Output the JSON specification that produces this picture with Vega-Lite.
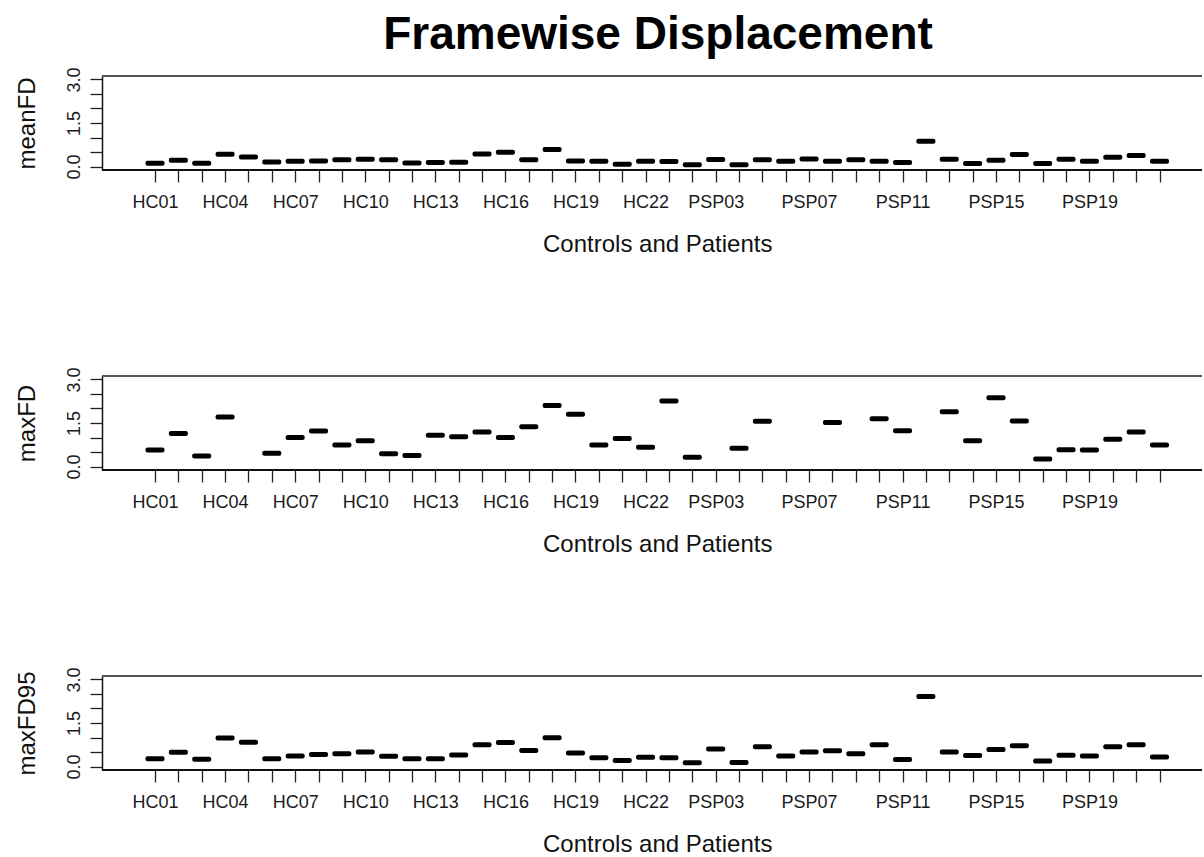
{
  "$schema": "https://vega.github.io/schema/vega-lite/v6.json",
  "background": "white",
  "padding": {"left": 15, "top": 11, "right": 0, "bottom": 0},
  "spacing": 110,
  "config": {
    "font": "Liberation Sans",
    "view": {"stroke": null},
    "axis": {
      "grid": false,
      "domainColor": "#111111",
      "domainWidth": 1.5,
      "tickColor": "#222222",
      "tickWidth": 1.3,
      "tickSize": 12,
      "labelColor": "#1a1a1a",
      "labelFontSize": 18,
      "titleColor": "#111111",
      "titleFontSize": 24,
      "titleFontWeight": "normal"
    },
    "title": {"color": "#000000"}
  },
  "data": {
    "values": [
      {"subject": "HC01", "meanFD": 0.11, "maxFD": 0.57, "maxFD95": 0.27},
      {"subject": "HC02", "meanFD": 0.22, "maxFD": 1.14, "maxFD95": 0.49},
      {"subject": "HC03", "meanFD": 0.11, "maxFD": 0.36, "maxFD95": 0.25},
      {"subject": "HC04", "meanFD": 0.42, "maxFD": 1.71, "maxFD95": 0.98},
      {"subject": "HC05", "meanFD": 0.33, "maxFD": null, "maxFD95": 0.84},
      {"subject": "HC06", "meanFD": 0.16, "maxFD": 0.46, "maxFD95": 0.27},
      {"subject": "HC07", "meanFD": 0.18, "maxFD": 1.0, "maxFD95": 0.36},
      {"subject": "HC08", "meanFD": 0.19, "maxFD": 1.22, "maxFD95": 0.41},
      {"subject": "HC09", "meanFD": 0.23, "maxFD": 0.74, "maxFD95": 0.44},
      {"subject": "HC10", "meanFD": 0.25, "maxFD": 0.89, "maxFD95": 0.5},
      {"subject": "HC11", "meanFD": 0.23, "maxFD": 0.44, "maxFD95": 0.35},
      {"subject": "HC12", "meanFD": 0.12, "maxFD": 0.38, "maxFD95": 0.27},
      {"subject": "HC13", "meanFD": 0.14, "maxFD": 1.08, "maxFD95": 0.27},
      {"subject": "HC14", "meanFD": 0.15, "maxFD": 1.03, "maxFD95": 0.4},
      {"subject": "HC15", "meanFD": 0.43, "maxFD": 1.19, "maxFD95": 0.75},
      {"subject": "HC16", "meanFD": 0.49, "maxFD": 1.0, "maxFD95": 0.83},
      {"subject": "HC17", "meanFD": 0.23, "maxFD": 1.37, "maxFD95": 0.55},
      {"subject": "HC18", "meanFD": 0.59, "maxFD": 2.1, "maxFD95": 0.99},
      {"subject": "HC19", "meanFD": 0.19, "maxFD": 1.8, "maxFD95": 0.47},
      {"subject": "HC20", "meanFD": 0.18, "maxFD": 0.74, "maxFD95": 0.3},
      {"subject": "HC21", "meanFD": 0.08, "maxFD": 0.97, "maxFD95": 0.21},
      {"subject": "HC22", "meanFD": 0.18, "maxFD": 0.66, "maxFD95": 0.32},
      {"subject": "PSP01", "meanFD": 0.17, "maxFD": 2.26, "maxFD95": 0.3},
      {"subject": "PSP02", "meanFD": 0.06, "maxFD": 0.32, "maxFD95": 0.13},
      {"subject": "PSP03", "meanFD": 0.24, "maxFD": null, "maxFD95": 0.6},
      {"subject": "PSP04", "meanFD": 0.06, "maxFD": 0.63, "maxFD95": 0.14},
      {"subject": "PSP05", "meanFD": 0.23, "maxFD": 1.56, "maxFD95": 0.68},
      {"subject": "PSP06", "meanFD": 0.18, "maxFD": null, "maxFD95": 0.36},
      {"subject": "PSP07", "meanFD": 0.26, "maxFD": null, "maxFD95": 0.5},
      {"subject": "PSP08", "meanFD": 0.18, "maxFD": 1.52, "maxFD95": 0.54},
      {"subject": "PSP09", "meanFD": 0.23, "maxFD": null, "maxFD95": 0.44},
      {"subject": "PSP10", "meanFD": 0.18, "maxFD": 1.65, "maxFD95": 0.75},
      {"subject": "PSP11", "meanFD": 0.14, "maxFD": 1.23, "maxFD95": 0.24},
      {"subject": "PSP12", "meanFD": 0.87, "maxFD": null, "maxFD95": 2.41},
      {"subject": "PSP13", "meanFD": 0.25, "maxFD": 1.89, "maxFD95": 0.5},
      {"subject": "PSP14", "meanFD": 0.1, "maxFD": 0.89, "maxFD95": 0.38},
      {"subject": "PSP15", "meanFD": 0.22, "maxFD": 2.37, "maxFD95": 0.59},
      {"subject": "PSP16", "meanFD": 0.41, "maxFD": 1.57, "maxFD95": 0.72},
      {"subject": "PSP17", "meanFD": 0.1, "maxFD": 0.26, "maxFD95": 0.19},
      {"subject": "PSP18", "meanFD": 0.25, "maxFD": 0.58, "maxFD95": 0.39},
      {"subject": "PSP19", "meanFD": 0.18, "maxFD": 0.57, "maxFD95": 0.36},
      {"subject": "PSP20", "meanFD": 0.32, "maxFD": 0.94, "maxFD95": 0.68},
      {"subject": "PSP21", "meanFD": 0.38, "maxFD": 1.19, "maxFD95": 0.75},
      {"subject": "PSP22", "meanFD": 0.18, "maxFD": 0.74, "maxFD95": 0.33}
    ]
  },
  "vconcat": [
    {
      "width": 1100,
      "height": 94,
      "title": {"text": "Framewise Displacement", "fontSize": 46, "fontWeight": "bold", "anchor": "middle", "frame": "group", "dx": 6, "offset": 8},
      "layer": [
        {
          "mark": {"type": "tick", "color": "black", "opacity": 1, "thickness": 5, "size": 19, "cornerRadius": 2},
          "encoding": {
            "x": {"field": "subject", "type": "ordinal", "sort": null,
              "scale": {"type": "point", "padding": 0, "range": [53, 1057.5],
                "domain": ["HC01","HC02","HC03","HC04","HC05","HC06","HC07","HC08","HC09","HC10","HC11","HC12","HC13","HC14","HC15","HC16","HC17","HC18","HC19","HC20","HC21","HC22","PSP01","PSP02","PSP03","PSP04","PSP05","PSP06","PSP07","PSP08","PSP09","PSP10","PSP11","PSP12","PSP13","PSP14","PSP15","PSP16","PSP17","PSP18","PSP19","PSP20","PSP21","PSP22"]},
              "axis": {"title": "Controls and Patients", "domain": false, "labelAngle": 0, "labelPadding": 11, "titlePadding": 21, "labelOverlap": false,
                "labelExpr": "(datum.value == 'HC01' || datum.value == 'HC04' || datum.value == 'HC07' || datum.value == 'HC10' || datum.value == 'HC13' || datum.value == 'HC16' || datum.value == 'HC19' || datum.value == 'HC22' || datum.value == 'PSP03' || datum.value == 'PSP07' || datum.value == 'PSP11' || datum.value == 'PSP15' || datum.value == 'PSP19') ? datum.value : ''"}},
            "y": {"field": "meanFD", "type": "quantitative",
              "scale": {"domain": [-0.12, 3.12], "nice": false, "zero": false},
              "axis": {"title": "meanFD", "values": [0, 0.5, 1, 1.5, 2, 2.5, 3], "labelAngle": -90, "labelAlign": "center", "labelBaseline": "alphabetic", "labelFontSize": 18, "labelPadding": 11, "titlePadding": 26,
                "labelExpr": "(datum.value == 0 || datum.value == 1.5 || datum.value == 3) ? format(datum.value, '.1f') : ''"}}
          }
        },
        {
          "mark": {"type": "rule", "color": "#555555", "strokeWidth": 2},
          "encoding": {"y": {"datum": 3.12, "type": "quantitative",
              "axis": {"title": "meanFD", "values": [0, 0.5, 1, 1.5, 2, 2.5, 3], "labelAngle": -90, "labelAlign": "center", "labelBaseline": "alphabetic", "labelFontSize": 18, "labelPadding": 11, "titlePadding": 26,
                "labelExpr": "(datum.value == 0 || datum.value == 1.5 || datum.value == 3) ? format(datum.value, '.1f') : ''"}}}
        },
        {
          "mark": {"type": "rule", "color": "#111111", "strokeWidth": 1.5},
          "encoding": {"y": {"datum": -0.12, "type": "quantitative",
              "axis": {"title": "meanFD", "values": [0, 0.5, 1, 1.5, 2, 2.5, 3], "labelAngle": -90, "labelAlign": "center", "labelBaseline": "alphabetic", "labelFontSize": 18, "labelPadding": 11, "titlePadding": 26,
                "labelExpr": "(datum.value == 0 || datum.value == 1.5 || datum.value == 3) ? format(datum.value, '.1f') : ''"}}}
        }
      ]
    },
    {
      "width": 1100,
      "height": 94,
      "layer": [
        {
          "mark": {"type": "tick", "color": "black", "opacity": 1, "thickness": 5, "size": 19, "cornerRadius": 2},
          "encoding": {
            "x": {"field": "subject", "type": "ordinal", "sort": null,
              "scale": {"type": "point", "padding": 0, "range": [53, 1057.5],
                "domain": ["HC01","HC02","HC03","HC04","HC05","HC06","HC07","HC08","HC09","HC10","HC11","HC12","HC13","HC14","HC15","HC16","HC17","HC18","HC19","HC20","HC21","HC22","PSP01","PSP02","PSP03","PSP04","PSP05","PSP06","PSP07","PSP08","PSP09","PSP10","PSP11","PSP12","PSP13","PSP14","PSP15","PSP16","PSP17","PSP18","PSP19","PSP20","PSP21","PSP22"]},
              "axis": {"title": "Controls and Patients", "domain": false, "labelAngle": 0, "labelPadding": 11, "titlePadding": 21, "labelOverlap": false,
                "labelExpr": "(datum.value == 'HC01' || datum.value == 'HC04' || datum.value == 'HC07' || datum.value == 'HC10' || datum.value == 'HC13' || datum.value == 'HC16' || datum.value == 'HC19' || datum.value == 'HC22' || datum.value == 'PSP03' || datum.value == 'PSP07' || datum.value == 'PSP11' || datum.value == 'PSP15' || datum.value == 'PSP19') ? datum.value : ''"}},
            "y": {"field": "maxFD", "type": "quantitative",
              "scale": {"domain": [-0.12, 3.12], "nice": false, "zero": false},
              "axis": {"title": "maxFD", "values": [0, 0.5, 1, 1.5, 2, 2.5, 3], "labelAngle": -90, "labelAlign": "center", "labelBaseline": "alphabetic", "labelFontSize": 18, "labelPadding": 11, "titlePadding": 26,
                "labelExpr": "(datum.value == 0 || datum.value == 1.5 || datum.value == 3) ? format(datum.value, '.1f') : ''"}}
          }
        },
        {
          "mark": {"type": "rule", "color": "#555555", "strokeWidth": 2},
          "encoding": {"y": {"datum": 3.12, "type": "quantitative",
              "axis": {"title": "maxFD", "values": [0, 0.5, 1, 1.5, 2, 2.5, 3], "labelAngle": -90, "labelAlign": "center", "labelBaseline": "alphabetic", "labelFontSize": 18, "labelPadding": 11, "titlePadding": 26,
                "labelExpr": "(datum.value == 0 || datum.value == 1.5 || datum.value == 3) ? format(datum.value, '.1f') : ''"}}}
        },
        {
          "mark": {"type": "rule", "color": "#111111", "strokeWidth": 1.5},
          "encoding": {"y": {"datum": -0.12, "type": "quantitative",
              "axis": {"title": "maxFD", "values": [0, 0.5, 1, 1.5, 2, 2.5, 3], "labelAngle": -90, "labelAlign": "center", "labelBaseline": "alphabetic", "labelFontSize": 18, "labelPadding": 11, "titlePadding": 26,
                "labelExpr": "(datum.value == 0 || datum.value == 1.5 || datum.value == 3) ? format(datum.value, '.1f') : ''"}}}
        }
      ]
    },
    {
      "width": 1100,
      "height": 94,
      "layer": [
        {
          "mark": {"type": "tick", "color": "black", "opacity": 1, "thickness": 5, "size": 19, "cornerRadius": 2},
          "encoding": {
            "x": {"field": "subject", "type": "ordinal", "sort": null,
              "scale": {"type": "point", "padding": 0, "range": [53, 1057.5],
                "domain": ["HC01","HC02","HC03","HC04","HC05","HC06","HC07","HC08","HC09","HC10","HC11","HC12","HC13","HC14","HC15","HC16","HC17","HC18","HC19","HC20","HC21","HC22","PSP01","PSP02","PSP03","PSP04","PSP05","PSP06","PSP07","PSP08","PSP09","PSP10","PSP11","PSP12","PSP13","PSP14","PSP15","PSP16","PSP17","PSP18","PSP19","PSP20","PSP21","PSP22"]},
              "axis": {"title": "Controls and Patients", "domain": false, "labelAngle": 0, "labelPadding": 11, "titlePadding": 21, "labelOverlap": false,
                "labelExpr": "(datum.value == 'HC01' || datum.value == 'HC04' || datum.value == 'HC07' || datum.value == 'HC10' || datum.value == 'HC13' || datum.value == 'HC16' || datum.value == 'HC19' || datum.value == 'HC22' || datum.value == 'PSP03' || datum.value == 'PSP07' || datum.value == 'PSP11' || datum.value == 'PSP15' || datum.value == 'PSP19') ? datum.value : ''"}},
            "y": {"field": "maxFD95", "type": "quantitative",
              "scale": {"domain": [-0.12, 3.12], "nice": false, "zero": false},
              "axis": {"title": "maxFD95", "values": [0, 0.5, 1, 1.5, 2, 2.5, 3], "labelAngle": -90, "labelAlign": "center", "labelBaseline": "alphabetic", "labelFontSize": 18, "labelPadding": 11, "titlePadding": 26,
                "labelExpr": "(datum.value == 0 || datum.value == 1.5 || datum.value == 3) ? format(datum.value, '.1f') : ''"}}
          }
        },
        {
          "mark": {"type": "rule", "color": "#555555", "strokeWidth": 2},
          "encoding": {"y": {"datum": 3.12, "type": "quantitative",
              "axis": {"title": "maxFD95", "values": [0, 0.5, 1, 1.5, 2, 2.5, 3], "labelAngle": -90, "labelAlign": "center", "labelBaseline": "alphabetic", "labelFontSize": 18, "labelPadding": 11, "titlePadding": 26,
                "labelExpr": "(datum.value == 0 || datum.value == 1.5 || datum.value == 3) ? format(datum.value, '.1f') : ''"}}}
        },
        {
          "mark": {"type": "rule", "color": "#111111", "strokeWidth": 1.5},
          "encoding": {"y": {"datum": -0.12, "type": "quantitative",
              "axis": {"title": "maxFD95", "values": [0, 0.5, 1, 1.5, 2, 2.5, 3], "labelAngle": -90, "labelAlign": "center", "labelBaseline": "alphabetic", "labelFontSize": 18, "labelPadding": 11, "titlePadding": 26,
                "labelExpr": "(datum.value == 0 || datum.value == 1.5 || datum.value == 3) ? format(datum.value, '.1f') : ''"}}}
        }
      ]
    }
  ]
}
